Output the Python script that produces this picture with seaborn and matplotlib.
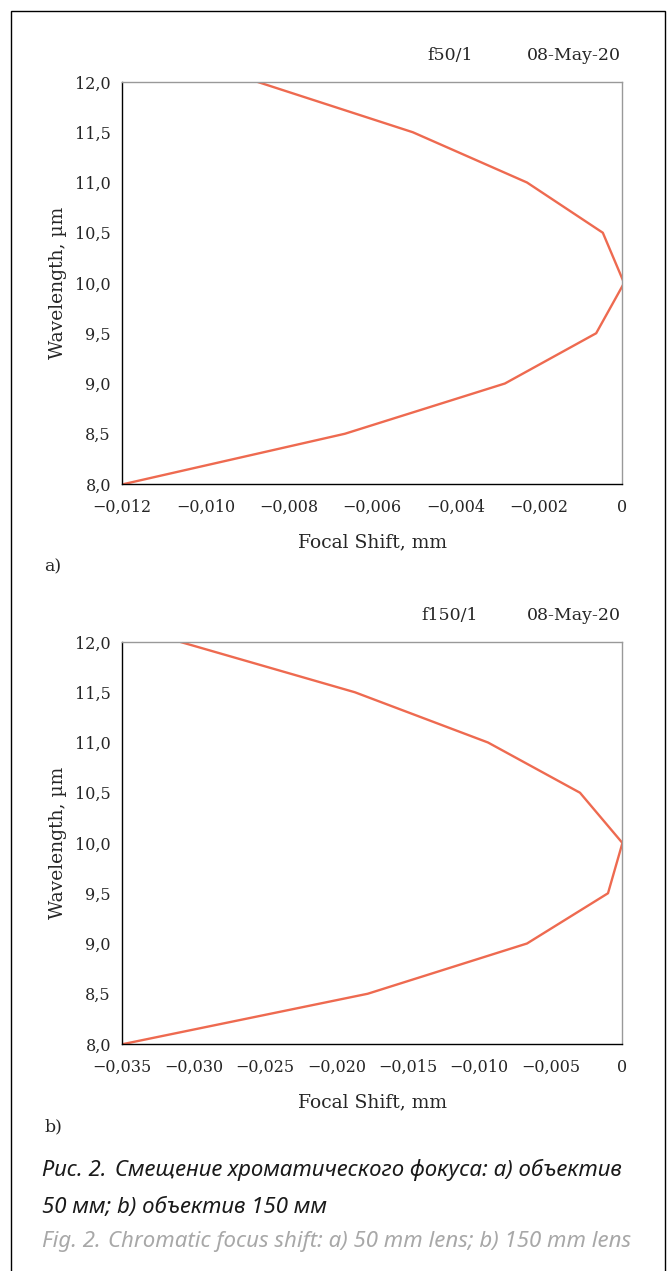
import matplotlib
matplotlib.use('Agg')
import matplotlib.pyplot as plt
from matplotlib.patches import Rectangle
from matplotlib.ticker import FuncFormatter
import seaborn as sns
import pandas as pd

# wavelength grid (µm) and focal shift (mm)
wavelength = [12.0, 11.5, 11.0, 10.5, 10.0, 9.5, 9.0, 8.5, 8.0]
shift_f50 = [-0.00874, -0.00502, -0.00228, -0.00046, 0.00005, -0.00062, -0.00281, -0.00665, -0.01195]
shift_f150 = [-0.0309, -0.0187, -0.00938, -0.00294, 0.00003, -0.00098, -0.00665, -0.0178, -0.0349]

panel_tags = ["f50/1", "f150/1"]
run_date = "08-May-20"
xticks_f50 = [-0.012, -0.010, -0.008, -0.006, -0.004, -0.002, 0.0]
xticks_f150 = [-0.035, -0.030, -0.025, -0.020, -0.015, -0.010, -0.005, 0.0]
yticks = [8.0, 8.5, 9.0, 9.5, 10.0, 10.5, 11.0, 11.5, 12.0]

LINE = '#EE6A50'
W, H = 668, 1271

sns.set_style('white')
plt.rcParams['font.family'] = ['DejaVu Serif']

fig = plt.figure(figsize=(W / 100, H / 100), dpi=100)
fig.patches.append(Rectangle((11 / W, -0.01), 654 / W, 1 - 11 / H + 0.01,
                             transform=fig.transFigure, fill=False,
                             edgecolor='black', lw=1.0))


def dec_fmt(nd):
    def f(v, pos):
        if abs(v) < 1e-12:
            return "0"
        s = f"{v:.{nd}f}".replace('.', ',')
        return s.replace('-', '\u2212')
    return FuncFormatter(f)


def px(x, y):
    return x / W, 1 - y / H


def panel(top, shift, xticks, tag, letter):
    bottom = top + 402
    ax = fig.add_axes([122 / W, 1 - bottom / H, 500 / W, 402 / H])
    df = pd.DataFrame({'shift': shift, 'wl': wavelength})
    sns.lineplot(data=df, x='shift', y='wl', sort=False, estimator=None,
                 color=LINE, lw=1.7, ax=ax)
    ax.set_xlim(xticks[0], 0)
    ax.set_ylim(8, 12)
    ax.set_xticks(xticks)
    ax.set_yticks(yticks)
    ax.xaxis.set_major_formatter(dec_fmt(3))
    ax.yaxis.set_major_formatter(dec_fmt(1))
    ax.tick_params(direction='in', length=5, width=1, color='black',
                   labelsize=11.5, pad=8)
    ax.tick_params(axis='x', pad=11)
    for s in ['left', 'bottom']:
        ax.spines[s].set_color('black')
        ax.spines[s].set_linewidth(1.0)
    for s in ['top', 'right']:
        ax.spines[s].set_color('#999999')
        ax.spines[s].set_linewidth(1.0)
    ax.set_xlabel('Focal Shift, mm', fontsize=13.5, labelpad=12)
    ax.set_ylabel('Wavelength, \u00b5m', fontsize=13.5, labelpad=6)
    fig.text(*px(450, top - 26), tag, ha='center', va='center', fontsize=12.5)
    fig.text(*px(621, top - 26), run_date, ha='right', va='center', fontsize=12.5)
    fig.text(*px(44, bottom + 83), letter, ha='left', va='center', fontsize=12.5)
    return ax


panel(82, shift_f50, xticks_f50, panel_tags[0], 'a)')
panel(642, shift_f150, xticks_f150, panel_tags[1], 'b)')

cap = ['Liberation Sans Narrow', 'Noto Sans', 'DejaVu Sans']
fs = 16
fig.text(*px(42, 1170), 'Рис. 2.', family=cap, style='italic', weight='bold',
         fontsize=fs, ha='left', va='center', color='#1a1a1a')
fig.text(*px(115, 1170), 'Смещение хроматического фокуса: a) объектив',
         family=cap, style='italic', fontsize=fs, ha='left', va='center',
         color='#1a1a1a')
fig.text(*px(42, 1207), '50 мм; b) объектив 150 мм', family=cap, style='italic',
         fontsize=fs, ha='left', va='center', color='#1a1a1a')
fig.text(*px(42, 1242), 'Fig. 2.', family=cap, style='italic', weight='bold',
         fontsize=fs, ha='left', va='center', color='#A8A8A8')
fig.text(*px(108, 1242), 'Chromatic focus shift: a) 50 mm lens; b) 150 mm lens',
         family=cap, style='italic', fontsize=fs, ha='left', va='center',
         color='#A8A8A8')

fig.savefig('out.png', dpi=100)
